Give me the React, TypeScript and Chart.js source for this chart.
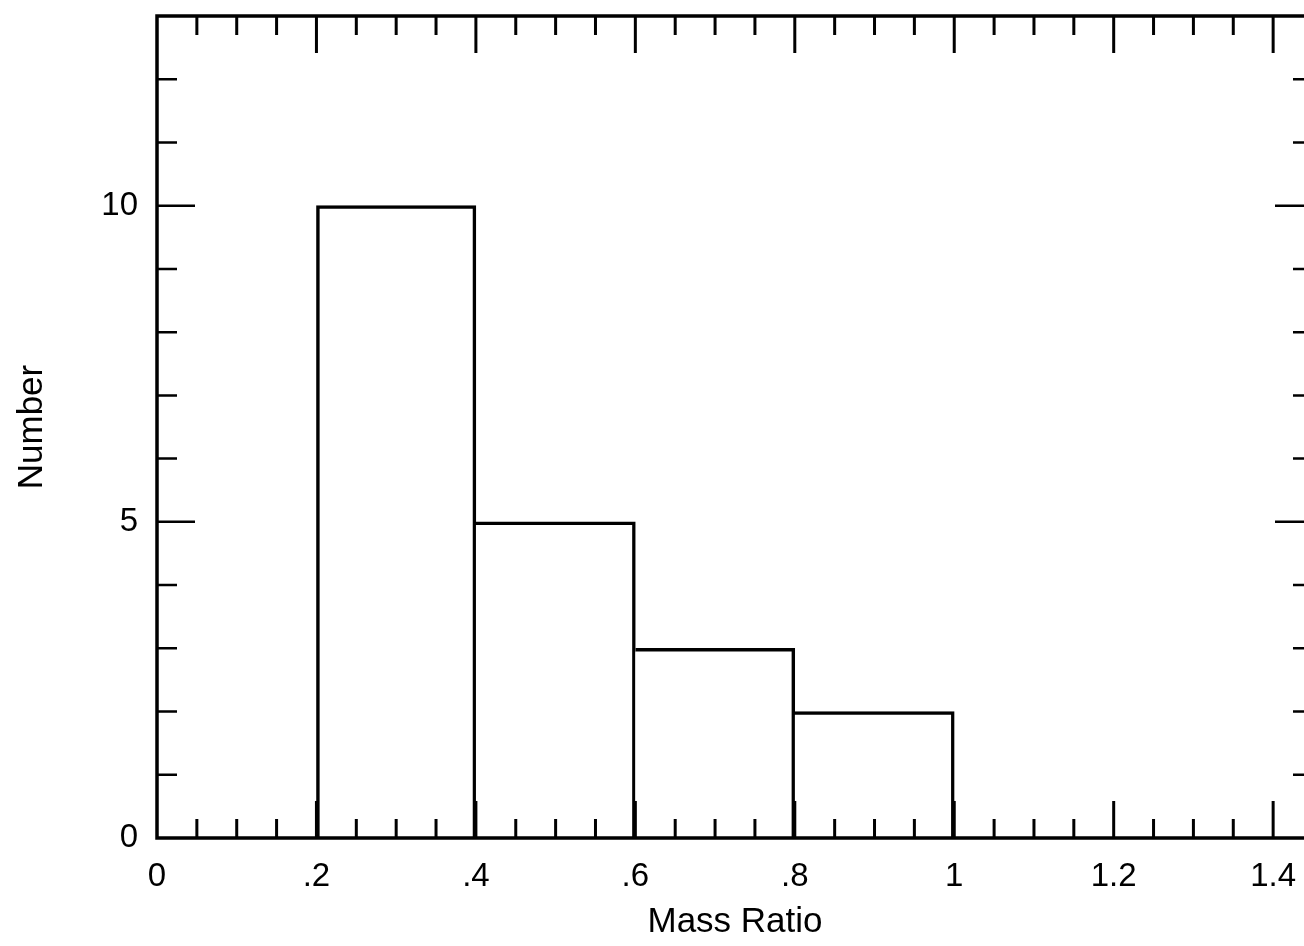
import React, { useEffect, useRef } from "react";
import { Chart, registerables } from "chart.js";

Chart.register(...registerables);

// Histogram data
const binCenters = [0.3, 0.5, 0.7, 0.9];
const counts = [10, 5, 3, 2];

// Axis ticks
const xTickValues = [0, 0.2, 0.4, 0.6, 0.8, 1.0, 1.2, 1.4];
const xTickLabels = ["0", ".2", ".4", ".6", ".8", "1", "1.2", "1.4"];
const yTickValues = [0, 5, 10];
const yTickLabels = ["0", "5", "10"];

const X_MIN = 0;
const X_MAX = 1.45;
const Y_MIN = 0;
const Y_MAX = 13;

const CANVAS_W = 1330;
const CANVAS_H = 946;
const FONT = "'Liberation Sans', Arial, Helvetica, sans-serif";

const framePlugin = {
  id: "frameTicks",
  afterDatasetsDraw(chart: any) {
    const { ctx, chartArea, scales } = chart;
    const xs = scales.x;
    const ys = scales.y;
    const { left, right, top, bottom } = chartArea;
    ctx.save();
    ctx.strokeStyle = "#000";
    ctx.lineCap = "butt";
    ctx.lineWidth = 3;
    for (let i = 1; ; i++) {
      const v = i * 0.05;
      if (v >= X_MAX - 1e-9) break;
      const px = xs.getPixelForValue(v);
      const major = Math.abs(v / 0.2 - Math.round(v / 0.2)) < 1e-6;
      const len = major ? 37 : 19;
      ctx.beginPath();
      ctx.moveTo(px, bottom);
      ctx.lineTo(px, bottom - len);
      ctx.moveTo(px, top);
      ctx.lineTo(px, top + len);
      ctx.stroke();
    }
    ctx.lineWidth = 2.5;
    for (let v = 1; v < Y_MAX; v++) {
      const py = ys.getPixelForValue(v);
      const major = v % 5 === 0;
      const len = major ? 38 : 20;
      ctx.beginPath();
      ctx.moveTo(left, py);
      ctx.lineTo(left + len, py);
      ctx.moveTo(right, py);
      ctx.lineTo(right - len, py);
      ctx.stroke();
    }
    ctx.lineWidth = 3.5;
    ctx.strokeRect(left, top, right - left, bottom - top);
    ctx.restore();
  },
};

export default function App() {
  const ref = useRef<HTMLCanvasElement | null>(null);

  useEffect(() => {
    if (!ref.current) return;
    const chart = new Chart(ref.current, {
      type: "bar",
      data: {
        datasets: [
          {
            data: binCenters.map((x, i) => ({ x, y: counts[i] })),
            backgroundColor: "#fff",
            borderColor: "#000",
            borderWidth: (c: any) => ({
              top: 3.5,
              bottom: 0,
              left: c.dataIndex === 0 ? 3.5 : 0,
              right: 3.5,
            }),
            borderSkipped: false,
            barPercentage: 1,
            categoryPercentage: 1,
          } as any,
        ],
      },
      options: {
        responsive: false,
        animation: false,
        layout: { padding: { top: 16, right: CANVAS_W - 1313, left: 0, bottom: 0 } },
        plugins: {
          legend: { display: false },
          tooltip: { enabled: false },
        },
        scales: {
          x: {
            type: "linear",
            min: X_MIN,
            max: X_MAX,
            offset: false,
            grid: { display: false, drawTicks: false },
            border: { display: false },
            afterBuildTicks: (scale: any) => {
              scale.ticks = xTickValues.map((v) => ({ value: v }));
            },
            afterFit: (scale: any) => {
              scale.height = CANVAS_H - 838;
              scale.paddingLeft = 0;
              scale.paddingRight = 0;
            },
            ticks: {
              autoSkip: false,
              maxRotation: 0,
              padding: 19,
              color: "#000",
              font: { family: FONT, size: 33 },
              callback: (_v: any, i: number) => xTickLabels[i],
            },
            title: {
              display: true,
              text: "Mass Ratio",
              color: "#000",
              font: { family: FONT, size: 35 },
              padding: { top: 0, bottom: 3 },
            },
          },
          y: {
            type: "linear",
            min: Y_MIN,
            max: Y_MAX,
            grid: { display: false, drawTicks: false },
            border: { display: false },
            afterBuildTicks: (scale: any) => {
              scale.ticks = yTickValues.map((v) => ({ value: v }));
            },
            afterFit: (scale: any) => {
              scale.width = 157;
              scale.paddingTop = 0;
              scale.paddingBottom = 0;
            },
            ticks: {
              autoSkip: false,
              padding: 19,
              color: "#000",
              font: { family: FONT, size: 33 },
              callback: (_v: any, i: number) => yTickLabels[i],
            },
            title: {
              display: true,
              text: "Number",
              color: "#000",
              font: { family: FONT, size: 35 },
              padding: { top: 11, bottom: 0 },
            },
          },
        },
      } as any,
      plugins: [framePlugin],
    });
    return () => chart.destroy();
  }, []);

  return (
    <div
      style={{
        position: "absolute",
        left: 0,
        top: 0,
        width: 1304,
        height: 946,
        overflow: "hidden",
        background: "#fff",
      }}
    >
      <canvas ref={ref} width={CANVAS_W} height={CANVAS_H} style={{ display: "block" }} />
    </div>
  );
}
